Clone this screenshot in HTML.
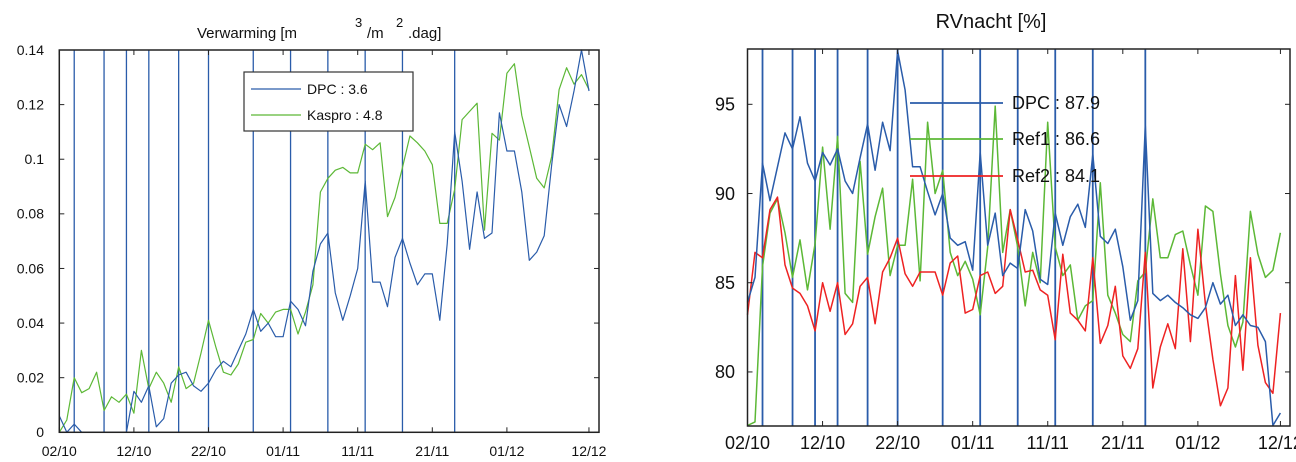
<!DOCTYPE html>
<html><head><meta charset="utf-8"><style>
html,body{margin:0;padding:0;background:#fff;}
svg{display:block;font-family:"Liberation Sans",sans-serif;}
</style></head><body>
<svg id="chart" width="1296" height="462" viewBox="0 0 1296 462" xmlns="http://www.w3.org/2000/svg">
<g id="left"></g>
<g id="right"></g>
</svg>
<script>
const tickDays = [0,10,20,30,40,50,60,71];
const tickLabels = ["02/10","12/10","22/10","01/11","11/11","21/11","01/12","12/12"];
const markerDays = [2,6,9,12,16,20,26,31,36,41,46,53];
const leftYTicks = [0,0.02,0.04,0.06,0.08,0.1,0.12,0.14];
const leftYLabels = ["0","0.02","0.04","0.06","0.08","0.1","0.12","0.14"];
const dpcHeat = [0.006,0,0.003,0,0,0,0,0,0,0,0.015,0.011,0.017,0.002,0.005,0.018,0.021,0.022,0.017,0.015,0.018,0.023,0.026,0.024,0.030,0.036,0.045,0.037,0.040,0.035,0.035,0.048,0.045,0.039,0.059,0.069,0.073,0.051,0.041,0.050,0.060,0.092,0.055,0.055,0.046,0.064,0.071,0.062,0.054,0.058,0.058,0.041,0.069,0.110,0.092,0.067,0.088,0.071,0.073,0.117,0.103,0.103,0.088,0.063,0.066,0.072,0.098,0.120,0.112,0.125,0.140,0.125];
const kasproHeat = [0,0.0045,0.020,0.0145,0.016,0.022,0.008,0.013,0.011,0.014,0.007,0.030,0.016,0.022,0.018,0.011,0.024,0.016,0.018,0.029,0.041,0.031,0.022,0.021,0.025,0.033,0.034,0.0435,0.040,0.044,0.045,0.045,0.036,0.044,0.054,0.088,0.093,0.096,0.097,0.095,0.095,0.1055,0.1035,0.106,0.079,0.086,0.097,0.1085,0.106,0.103,0.098,0.0765,0.0765,0.089,0.1145,0.1175,0.1205,0.074,0.1095,0.107,0.1315,0.135,0.116,0.1045,0.093,0.0895,0.101,0.1255,0.1335,0.1275,0.131,0.1255];
const rightYTicks = [80,85,90,95];
const rightYLabels = ["80","85","90","95"];
const dpcRV = [83.9,85.3,91.7,89.6,91.5,93.4,92.5,94.3,91.7,90.7,92.3,91.6,92.5,90.7,90.0,92.0,93.9,91.3,94.0,92.4,98.0,95.8,91.5,91.5,90.1,88.8,90.0,87.5,87.1,87.3,85.7,92.3,87.1,88.9,85.4,86.1,85.8,89.1,87.9,85.2,84.9,88.9,87.1,88.7,89.4,88.1,92.2,87.6,87.2,88.0,85.9,82.9,84.0,93.8,84.4,84.0,84.3,83.9,83.6,83.2,83.0,83.6,85.0,83.8,84.3,82.6,83.2,82.6,82.5,81.7,77.0,77.7];
const ref1RV = [77.0,77.2,85.9,88.9,89.7,87.8,85.3,87.4,84.6,87.2,92.6,88.0,93.2,84.4,83.9,91.8,86.6,88.7,90.3,85.4,87.1,87.1,90.8,85.1,94.0,90.0,91.3,86.7,85.4,86.2,85.2,83.2,87.0,94.9,86.7,89.1,87.0,83.7,86.7,85.0,94.0,87.0,85.4,86.0,82.9,83.7,84.0,90.6,84.3,83.3,82.1,81.7,85.1,85.6,89.7,86.4,86.4,87.7,87.9,86.0,84.3,89.3,89.0,85.5,82.6,81.4,82.8,89.0,86.6,85.3,85.7,87.8];
const ref2RV = [83.2,86.7,86.4,89.1,89.8,86.0,84.7,84.4,83.7,82.3,85.0,83.4,85.0,82.1,82.7,84.8,85.3,82.7,85.6,86.4,87.5,85.5,84.8,85.6,85.6,85.6,84.3,86.1,86.5,83.3,83.5,85.4,85.6,84.4,84.8,89.1,87.4,85.6,85.7,84.6,84.3,81.8,86.6,83.3,82.9,82.3,86.4,81.6,82.6,84.8,80.9,80.2,81.3,86.7,79.1,81.4,82.7,81.3,86.9,81.7,88.0,83.8,80.7,78.1,79.1,85.4,80.1,86.4,81.5,79.4,78.8,83.3];

const NS="http://www.w3.org/2000/svg";
function mk(parent,tag,attrs,text){const e=document.createElementNS(NS,tag);for(const k in attrs)e.setAttribute(k,attrs[k]);if(text!==undefined)e.textContent=text;parent.appendChild(e);return e;}
const BLUE="#2a5caa",GREEN="#5cb836",RED="#ee2222";

function drawChart(g,cfg){
  const xs=d=>cfg.x0+d*cfg.pxDay;
  const ys=v=>cfg.yBottom-(v-cfg.yMin)/(cfg.yMax-cfg.yMin)*(cfg.yBottom-cfg.yTop);
  markerDays.forEach(d=>{
    const l=mk(g,'line',{x1:xs(d),x2:xs(d),y1:cfg.yTop,y2:cfg.yBottom,stroke:BLUE,'stroke-width':cfg.mw});
    
    
  });
  cfg.series.forEach(s=>{
    const pts=s.data.map((v,i)=>xs(i).toFixed(1)+','+ys(v).toFixed(1)).join(' ');
    const p=mk(g,'polyline',{points:pts,fill:'none',stroke:s.color,'stroke-width':cfg.sw,'stroke-linejoin':'round'});
    
    
  });
  const f=mk(g,'rect',{x:cfg.x0,y:cfg.yTop,width:cfg.xRight-cfg.x0,height:cfg.yBottom-cfg.yTop,fill:'none',stroke:'#222','stroke-width':1.5});
  
  
  tickDays.forEach((d,i)=>{
    const x=xs(d);
    mk(g,'line',{x1:x,x2:x,y1:cfg.yBottom,y2:cfg.yBottom-5,stroke:'#222'});
    mk(g,'line',{x1:x,x2:x,y1:cfg.yTop,y2:cfg.yTop+5,stroke:'#222'});
    const t=mk(g,'text',{x:x,y:cfg.xLabelY,'font-size':cfg.fs,'text-anchor':'middle',fill:'#111'},tickLabels[i]);
    
    
  });
  cfg.yTicks.forEach((v,i)=>{
    const y=ys(v);
    mk(g,'line',{x1:cfg.x0,x2:cfg.x0+5,y1:y,y2:y,stroke:'#222'});
    mk(g,'line',{x1:cfg.xRight,x2:cfg.xRight-5,y1:y,y2:y,stroke:'#222'});
    const t=mk(g,'text',{x:cfg.yLabelX,y:y+cfg.fs*0.35,'font-size':cfg.fs,'text-anchor':'end',fill:'#111'},cfg.yLabels[i]);
    
    
  });
}

const L=document.getElementById('left');
drawChart(L,{x0:59.3,pxDay:7.46,xRight:599,yTop:50,yBottom:432.3,yMin:0,yMax:0.14,mw:1.3,sw:1.2,fs:14,xLabelY:456,yLabelX:44,
  yTicks:leftYTicks,yLabels:leftYLabels,
  series:[{data:kasproHeat,color:GREEN,name:'kaspro-line'},{data:dpcHeat,color:BLUE,name:'dpc-line'}]});
const lt=mk(L,'text',{x:197,y:38,'font-size':15,fill:'#111'});


lt.innerHTML='Verwarming [m<tspan x="355" y="27" font-size="13">3</tspan><tspan x="367" y="38">/m</tspan><tspan x="396" y="27" font-size="13">2</tspan><tspan x="408" y="38">.dag]</tspan>';
const lg=mk(L,'g',{});


mk(lg,'rect',{x:244,y:72,width:169,height:59,fill:'#fff',stroke:'#333','stroke-width':1.2});
mk(lg,'line',{x1:251,x2:301,y1:89,y2:89,stroke:BLUE,'stroke-width':1.3});
mk(lg,'line',{x1:251,x2:301,y1:115,y2:115,stroke:GREEN,'stroke-width':1.3});
const l1=mk(lg,'text',{x:307,y:94,'font-size':14,fill:'#111'},'DPC : 3.6');


const l2=mk(lg,'text',{x:307,y:120,'font-size':14,fill:'#111'},'Kaspro : 4.8');



const R=document.getElementById('right');
drawChart(R,{x0:747.5,pxDay:7.506,xRight:1290,yTop:49,yBottom:426,yMin:76.97,yMax:98.1,mw:1.8,sw:1.5,fs:18,xLabelY:449,yLabelX:735,
  yTicks:rightYTicks,yLabels:rightYLabels,
  series:[{data:ref1RV,color:GREEN,name:'ref1-line'},{data:ref2RV,color:RED,name:'ref2-line'},{data:dpcRV,color:BLUE,name:'dpc-rv-line'}]});
const rt=mk(R,'text',{x:991,y:28,'font-size':20,'text-anchor':'middle',fill:'#111'},'RVnacht [%]');


const rl=mk(R,'g',{});


[[BLUE,103,'DPC : 87.9','legend-entry-dpc'],[GREEN,139,'Ref1 : 86.6','legend-entry-ref1'],[RED,176,'Ref2 : 84.1','legend-entry-ref2']].forEach(e=>{
  mk(rl,'line',{x1:910,x2:1003,y1:e[1],y2:e[1],stroke:e[0],'stroke-width':1.8});
  const t=mk(rl,'text',{x:1012,y:e[1]+6,'font-size':18,fill:'#111'},e[2]);
  
  
});
</script>
</body></html>
